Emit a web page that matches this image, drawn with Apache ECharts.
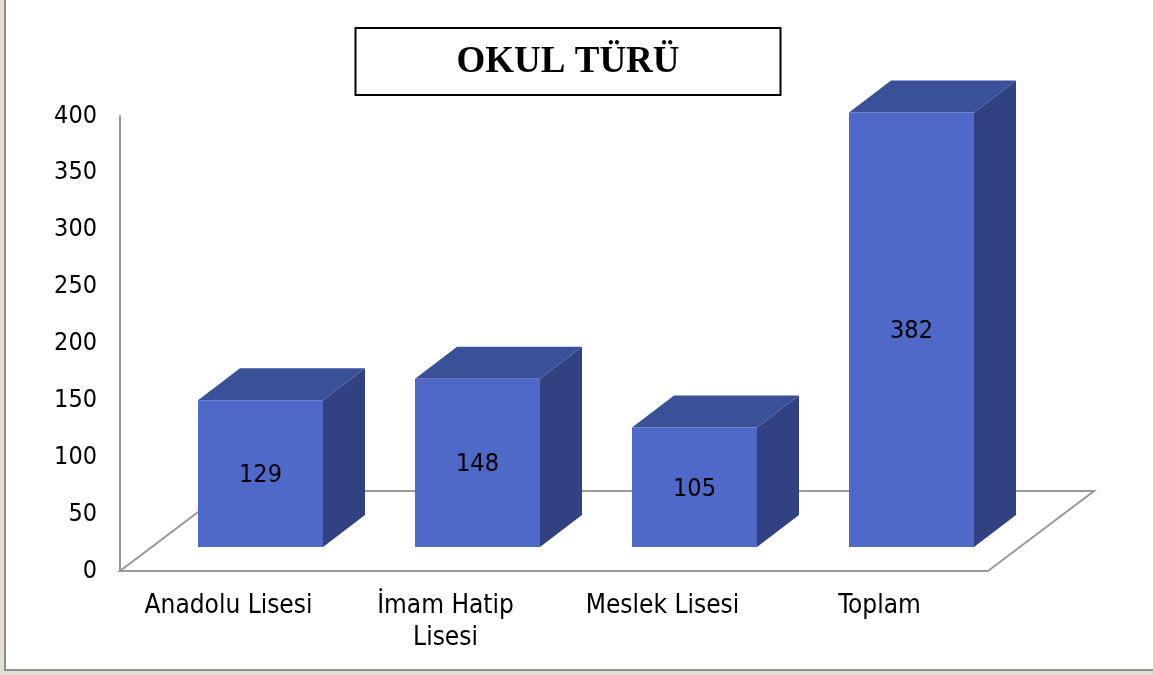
<!DOCTYPE html>
<html><head><meta charset="utf-8">
<style>html,body{margin:0;padding:0;background:#e4dfd3}#c{width:1153px;height:675px}</style>
<script src="https://cdn.jsdelivr.net/npm/echarts@6/dist/echarts.min.js"></script>
</head><body><div id="c"></div>
<script>
const categories = ['Anadolu Lisesi', 'İmam Hatip\nLisesi', 'Meslek Lisesi', 'Toplam'];
const values = [129, 148, 105, 382];
const yTicks = [0, 50, 100, 150, 200, 250, 300, 350, 400];
const FONT = '"DejaVu Sans Condensed","DejaVu Sans"';
const chart = echarts.init(document.getElementById('c'));
// projection of the 3D look, in pixels
const floorDX = 106, floorDY = -80, barShiftX = 32, barShiftY = -24, barW = 125, depthX = 42, depthY = -32;
chart.setOption({
  animation: false,
  backgroundColor: '#e4dfd3',
  graphic: [
    {type:'rect', z:-10, shape:{x:5,y:-5,width:1160,height:675}, style:{fill:'#ffffff',stroke:'#8f8f8f',lineWidth:2}}
  ],
  title: {
    text: 'OKUL TÜRÜ', left: 355, top: 28, padding: [16, 101.5, 14, 101.5],
    borderColor: '#000', borderWidth: 2, backgroundColor:'#fff',
    textStyle: {fontFamily:'"Liberation Serif"', fontWeight:'bold', fontSize:37, color:'#000'}
  },
  grid: {left:120, right:165, top:116, bottom:104},
  xAxis: {type:'category', data:categories, axisTick:{show:false},
    axisLine:{show:false},
    axisLabel:{fontFamily:FONT, fontSize:26, color:'#000', margin:19, lineHeight:32, interval:0}},
  yAxis: {type:'value', min:0, max:400, interval:50, splitLine:{show:false}, axisTick:{show:false},
    axisLine:{show:true, lineStyle:{color:'#999',width:2}},
    axisLabel:{fontFamily:FONT, fontSize:25, color:'#000', margin:23, padding:[2,0,0,0], formatter:v=>yTicks.includes(v)?String(v):''}},
  series: [
    {type:'custom', silent:true, z:1, data:[[0,0]], renderItem(p,api){
      const cs = p.coordSys; const x = cs.x, y = cs.y + cs.height, w = cs.width;
      return {type:'polyline', shape:{points:[[x+w,y],[x,y],[x+floorDX,y+floorDY],[x+w+floorDX,y+floorDY],[x+w,y]]}, style:{fill:null, stroke:'#999', lineWidth:2}};
    }},
    {type:'custom', silent:true, z:2, data:values.map((v,i)=>[i,v]), renderItem(p,api){
      const c = api.coord([api.value(0),api.value(1)]);
      const b = api.coord([api.value(0),0]);
      const x0 = c[0]+barShiftX-barW/2, x1 = x0+barW, yt = c[1]+barShiftY, yb = b[1]+barShiftY;
      return {type:'group', children:[
        {type:'polygon', shape:{points:[[x1,yt],[x1+depthX,yt+depthY],[x1+depthX,yb+depthY],[x1,yb]]}, style:{fill:'#314182'}},
        {type:'polygon', shape:{points:[[x0,yt],[x0+depthX,yt+depthY],[x1+depthX,yt+depthY],[x1,yt]]}, style:{fill:'#3a5099'}},
        {type:'rect', shape:{x:x0,y:yt,width:barW,height:yb-yt}, style:{fill:'#4e69c8'}},
        {type:'text', style:{text:String(api.value(1)), x:(x0+x1)/2, y:(yt+yb)/2+2, align:'center', verticalAlign:'middle', fontFamily:FONT, fontSize:25, fill:'#000'}}
      ]};
    }}
  ]
});
</script></body></html>
